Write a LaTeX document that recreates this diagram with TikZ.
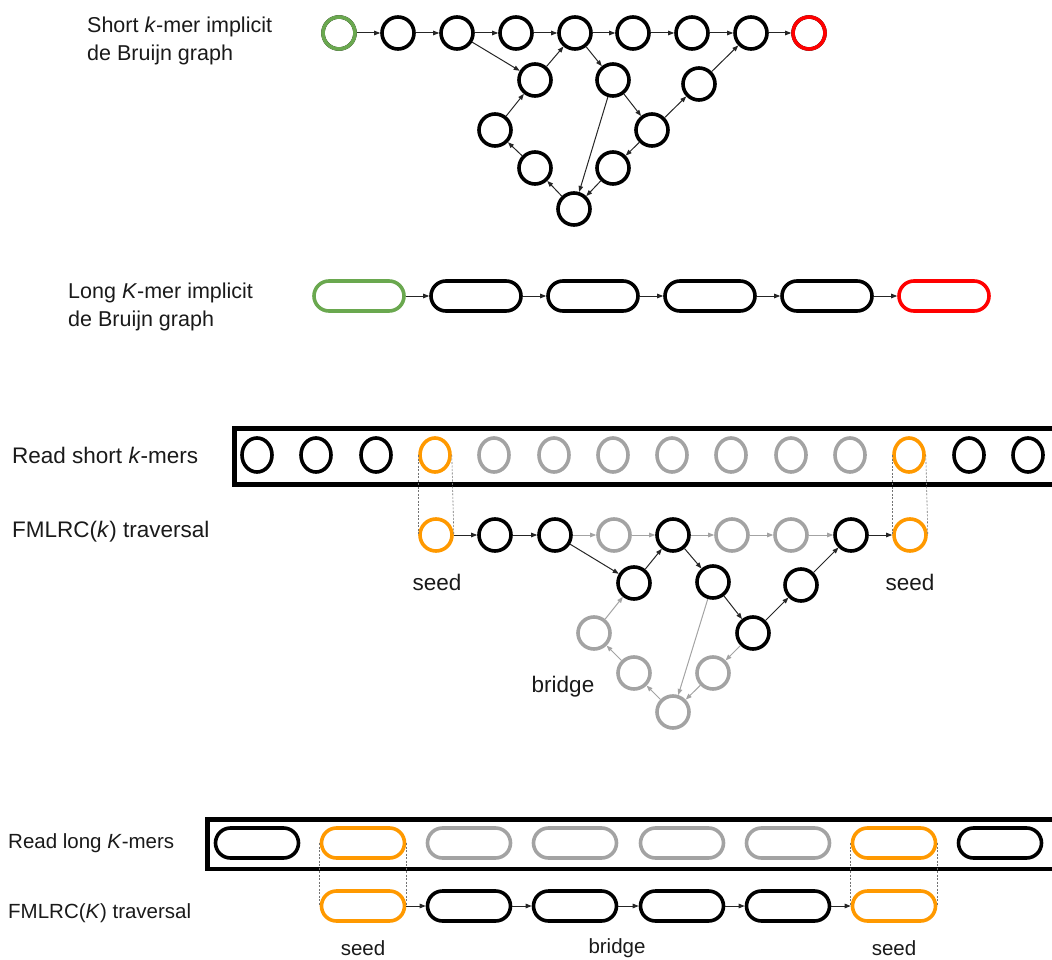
\documentclass[tikz,border=0pt]{standalone}
\usepackage{fontspec}
\setmainfont{Liberation Sans}
\usetikzlibrary{arrows.meta,shapes.geometric}
\definecolor{seedor}{HTML}{FF9900}
\definecolor{startgr}{HTML}{6AA84F}
\definecolor{endrd}{HTML}{FF0000}
\definecolor{skipgr}{HTML}{A3A3A3}
\definecolor{txt}{HTML}{1A1A1A}
\tikzset{
  kmer/.style={circle, draw=black, line width=3.6pt, minimum size=32pt, inner sep=0pt},
  rkmer/.style={ellipse, draw=black, line width=3.6pt, minimum width=30pt, minimum height=34pt, inner sep=0pt},
  pill/.style={rectangle, rounded corners=15pt, draw=black, line width=3.6pt, minimum width=90pt, minimum height=30pt, inner sep=0pt},
  spill/.style={pill, minimum width=83pt},
  edge/.style={-{Triangle[length=6pt,width=4.5pt]}, line width=1pt, draw=black!85},
  gedge/.style={edge, draw=skipgr},
  guide/.style={draw=black!55, line width=0.6pt, dash pattern=on 2pt off 1.5pt},
  readbox/.style={draw=black, line width=5pt},
  lbl/.style={font=\fontsize{21.5}{28}\selectfont, text=txt, inner sep=0pt, align=left, anchor=west},
  mlbl/.style={lbl, font=\fontsize{22.5}{28}\selectfont},
  slbl/.style={lbl, font=\fontsize{20.5}{26}\selectfont},
}
\begin{document}
\begin{tikzpicture}[x=1pt,y=-1pt]
\clip (0,0) rectangle (1052,960);

% ---------- short k-mer implicit de Bruijn graph ----------
\node[lbl] (lshort) at (87,41) {Short \textit{k}-mer implicit\\de Bruijn graph};
\foreach \i/\x in {1/339,2/398,3/457,4/516,5/575,6/633,7/692,8/751,9/809}
  \node[kmer] (t\i) at (\x,33) {};
\node[kmer, draw=startgr] at (t1) {};
\node[kmer, draw=endrd] at (t9) {};
\node[kmer] (ta) at (535,80) {};
\node[kmer] (tb) at (613,80) {};
\node[kmer] (tc) at (699,84) {};
\node[kmer] (td) at (495,130) {};
\node[kmer] (te) at (652,130) {};
\node[kmer] (tf) at (535,168) {};
\node[kmer] (tg) at (613,168) {};
\node[kmer] (th) at (574,209) {};
\foreach \a/\b in {t1/t2,t2/t3,t3/t4,t4/t5,t5/t6,t6/t7,t7/t8,t8/t9,
                   t3/ta,ta/t5,t5/tb,tb/te,tb/th,te/tc,tc/t8,te/tg,tg/th,th/tf,tf/td,td/ta}
  \draw[edge] (\a) -- (\b);

% ---------- long K-mer implicit de Bruijn graph ----------
\node[lbl] (llong) at (68,307) {Long \textit{K}-mer implicit\\de Bruijn graph};
\node[pill, draw=startgr] (p1) at (359,296) {};
\node[pill] (p2) at (476,296) {};
\node[pill] (p3) at (593,296) {};
\node[pill] (p4) at (710,296) {};
\node[pill] (p5) at (827,296) {};
\node[pill, draw=endrd] (p6) at (944,296) {};
\foreach \a/\b in {p1/p2,p2/p3,p3/p4,p4/p5,p5/p6}
  \draw[edge] (\a) -- (\b);

% ---------- read short k-mers ----------
\node[mlbl] (lreads) at (12,455) {Read short \textit{k}-mers};
\draw[readbox] (234.5,428.5) rectangle (1080,484.5);
\foreach \i/\x/\c in {0/257/black,1/316/black,2/376/black,3/435/seedor,4/494/skipgr,
                      5/554/skipgr,6/613/skipgr,7/672/skipgr,8/731/skipgr,9/791/skipgr,
                      10/850/skipgr,11/909/seedor,12/969/black,13/1028/black}
  \node[rkmer, draw=\c] (r\i) at (\x,455) {};

% ---------- FMLRC(k) traversal ----------
\node[mlbl] (ltravs) at (12,532) {FMLRC(\textit{k}) traversal};
\foreach \i/\x/\c in {1/436/seedor,2/495/black,3/555/black,4/614/skipgr,5/673/black,
                      6/732/skipgr,7/791/skipgr,8/851/black,9/910/seedor}
  \node[kmer, draw=\c] (m\i) at (\x,535) {};
\node[kmer] (ma) at (634,583) {};
\node[kmer] (mb) at (713,582) {};
\node[kmer] (mc) at (801,585) {};
\node[kmer, draw=skipgr] (md) at (594,633) {};
\node[kmer] (me) at (753,633) {};
\node[kmer, draw=skipgr] (mf) at (634,673) {};
\node[kmer, draw=skipgr] (mg) at (713,673) {};
\node[kmer, draw=skipgr] (mh) at (673,712) {};
\foreach \a/\b in {m1/m2,m2/m3,m8/m9,m3/ma,ma/m5,m5/mb,mb/me,me/mc,mc/m8}
  \draw[edge] (\a) -- (\b);
\foreach \a/\b in {m3/m4,m4/m5,m5/m6,m6/m7,m7/m8,mb/mh,me/mg,mg/mh,mh/mf,mf/md,md/ma}
  \draw[gedge] (\a) -- (\b);
\draw[guide] (r3.west) -- (m1.west);
\draw[guide] (r3.east) -- (m1.east);
\draw[guide] (r11.west) -- (m9.west);
\draw[guide] (r11.east) -- (m9.east);
\node[mlbl, anchor=center] (seedl) at (437,582) {seed};
\node[mlbl, anchor=center] (seedr) at (910,582) {seed};
\node[mlbl, anchor=center] (bridgem) at (563,687) {bridge};

% ---------- read long K-mers ----------
\node[slbl] (lreadl) at (8,843) {Read long \textit{K}-mers};
\draw[readbox, line width=4.5pt] (207.25,819.25) rectangle (1080,868.75);
\foreach \i/\x/\c in {0/257/black,1/363/seedor,2/469/skipgr,3/575/skipgr,
                      4/682/skipgr,5/788/skipgr,6/894/seedor,7/1000/black}
  \node[spill, draw=\c] (q\i) at (\x,843) {};

% ---------- FMLRC(K) traversal ----------
\node[slbl] (ltravl) at (8,913) {FMLRC(\textit{K}) traversal};
\foreach \i/\x/\c in {1/363/seedor,2/469/black,3/575/black,4/682/black,5/788/black,6/894/seedor}
  \node[spill, draw=\c] (u\i) at (\x,906) {};
\foreach \a/\b in {u1/u2,u2/u3,u3/u4,u4/u5,u5/u6}
  \draw[edge] (\a) -- (\b);
\draw[guide] (q1.west) -- (u1.west);
\draw[guide] (q1.east) -- (u1.east);
\draw[guide] (q6.west) -- (u6.west);
\draw[guide] (q6.east) -- (u6.east);
\node[slbl, anchor=center] (seedbl) at (363,948) {seed};
\node[slbl, anchor=center] (bridgeb) at (617,948) {bridge};
\node[slbl, anchor=center] (seedbr) at (894,948) {seed};
\end{tikzpicture}
\end{document}
